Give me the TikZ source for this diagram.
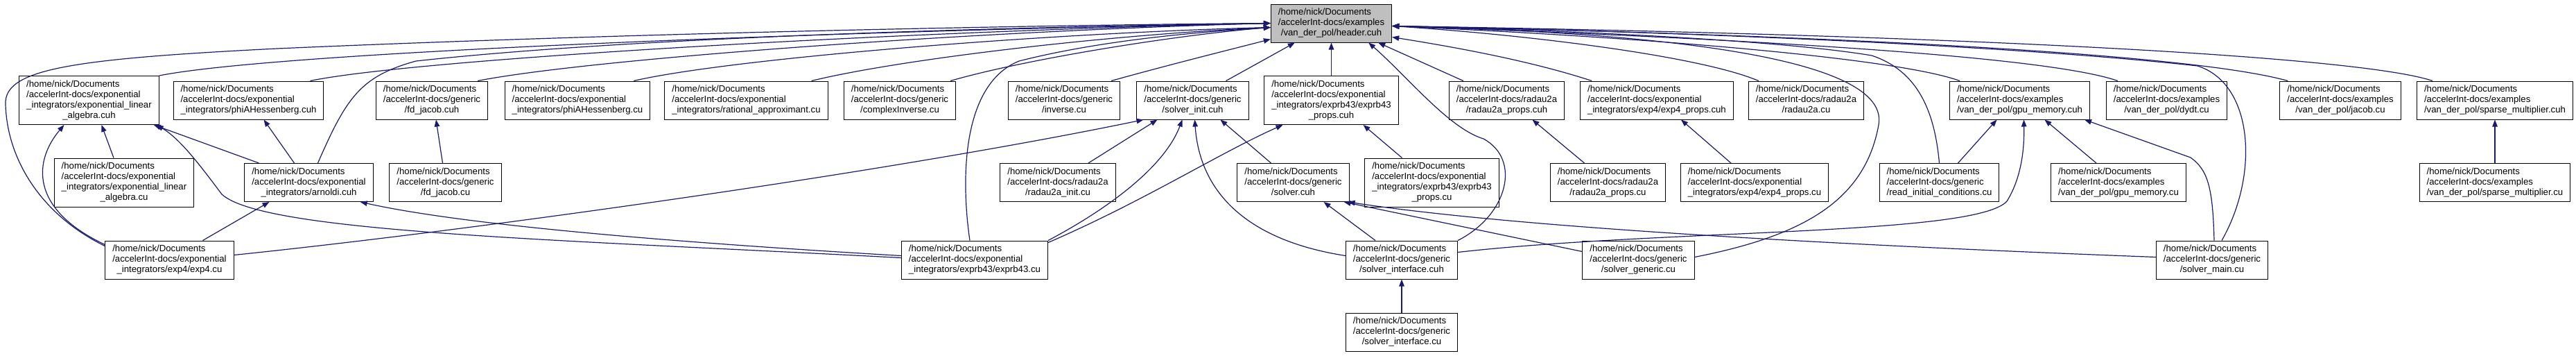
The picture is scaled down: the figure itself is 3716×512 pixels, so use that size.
\documentclass[tikz,border=0pt]{standalone}
\usepackage{fontspec}
\setmainfont{Liberation Sans}
\usetikzlibrary{arrows.meta}
\definecolor{edgeblue}{HTML}{191970}
\newcommand{\flines}[2]{\begin{tabular}{@{}l@{}}#1\\\multicolumn{1}{@{}c@{}}{#2}\end{tabular}}
\tikzset{
  file/.style={draw=black, fill=white, line width=1pt, inner xsep=10.5pt, inner ysep=5pt, font=\fontsize{13.2}{15}\selectfont},
  edge/.style={draw=edgeblue, line width=1.2pt, -{Triangle[length=10pt,width=7.5pt]}}
}
\begin{document}
\begin{tikzpicture}[x=1pt, y=-1pt]
    \useasboundingbox (0,0) rectangle (3716,512);

    % Header
    \node[file, fill=gray!50] (H) at (1920.5,33.5) {\flines{/home/nick/Documents\\/accelerInt-docs/examples}{/van\_der\_pol/header.cuh}};

    % First row
    \node[file] (elacuh) at (128.5,144.5) {\flines{/home/nick/Documents\\/accelerInt-docs/exponential\\\_integrators/exponential\_linear}{\_algebra.cuh}};
    \node[file] (phicuh) at (358.5,144.5) {\flines{/home/nick/Documents\\/accelerInt-docs/exponential}{\_integrators/phiAHessenberg.cuh}};
    \node[file] (fdcuh) at (623,144.5) {\flines{/home/nick/Documents\\/accelerInt-docs/generic}{/fd\_jacob.cuh}};
    \node[file] (phicu) at (833,144.5) {\flines{/home/nick/Documents\\/accelerInt-docs/exponential}{\_integrators/phiAHessenberg.cu}};
    \node[file] (ratcu) at (1076.5,144.5) {\flines{/home/nick/Documents\\/accelerInt-docs/exponential}{\_integrators/rational\_approximant.cu}};
    \node[file] (cinvcu) at (1298,144.5) {\flines{/home/nick/Documents\\/accelerInt-docs/generic}{/complexInverse.cu}};
    \node[file] (invcu) at (1535,144.5) {\flines{/home/nick/Documents\\/accelerInt-docs/generic}{/inverse.cu}};
    \node[file] (initcuh) at (1720.5,144.5) {\flines{/home/nick/Documents\\/accelerInt-docs/generic}{/solver\_init.cuh}};
    \node[file] (e43pcuh) at (1920.5,144.5) {\flines{/home/nick/Documents\\/accelerInt-docs/exponential\\\_integrators/exprb43/exprb43}{\_props.cuh}};
    \node[file] (r2pcuh) at (2173.5,144.5) {\flines{/home/nick/Documents\\/accelerInt-docs/radau2a}{/radau2a\_props.cuh}};
    \node[file] (e4pcuh) at (2390,144.5) {\flines{/home/nick/Documents\\/accelerInt-docs/exponential}{\_integrators/exp4/exp4\_props.cuh}};
    \node[file] (r2cu) at (2605.5,144.5) {\flines{/home/nick/Documents\\/accelerInt-docs/radau2a}{/radau2a.cu}};
    \node[file] (gpucuh) at (2913.5,144.5) {\flines{/home/nick/Documents\\/accelerInt-docs/examples}{/van\_der\_pol/gpu\_memory.cuh}};
    \node[file] (dydtcu) at (3125.5,144.5) {\flines{/home/nick/Documents\\/accelerInt-docs/examples}{/van\_der\_pol/dydt.cu}};
    \node[file] (jaccu) at (3376,144.5) {\flines{/home/nick/Documents\\/accelerInt-docs/examples}{/van\_der\_pol/jacob.cu}};
    \node[file] (spcuh) at (3599,144.5) {\flines{/home/nick/Documents\\/accelerInt-docs/examples}{/van\_der\_pol/sparse\_multiplier.cuh}};

    % Second row
    \node[file] (elacu) at (179,263) {\flines{/home/nick/Documents\\/accelerInt-docs/exponential\\\_integrators/exponential\_linear}{\_algebra.cu}};
    \node[file] (arncuh) at (445.5,263) {\flines{/home/nick/Documents\\/accelerInt-docs/exponential}{\_integrators/arnoldi.cuh}};
    \node[file] (fdcu) at (642.5,263) {\flines{/home/nick/Documents\\/accelerInt-docs/generic}{/fd\_jacob.cu}};
    \node[file] (r2icu) at (1526,263) {\flines{/home/nick/Documents\\/accelerInt-docs/radau2a}{/radau2a\_init.cu}};
    \node[file] (solcuh) at (1865.5,263) {\flines{/home/nick/Documents\\/accelerInt-docs/generic}{/solver.cuh}};
    \node[file] (e43pcu) at (2065.5,263) {\flines{/home/nick/Documents\\/accelerInt-docs/exponential\\\_integrators/exprb43/exprb43}{\_props.cu}};
    \node[file] (r2pcu) at (2319.5,263) {\flines{/home/nick/Documents\\/accelerInt-docs/radau2a}{/radau2a\_props.cu}};
    \node[file] (e4pcu) at (2531,263) {\flines{/home/nick/Documents\\/accelerInt-docs/exponential}{\_integrators/exp4/exp4\_props.cu}};
    \node[file] (ricu) at (2797.5,263) {\flines{/home/nick/Documents\\/accelerInt-docs/generic}{/read\_initial\_conditions.cu}};
    \node[file] (gpucu) at (3056,263) {\flines{/home/nick/Documents\\/accelerInt-docs/examples}{/van\_der\_pol/gpu\_memory.cu}};
    \node[file] (spcu) at (3599,263) {\flines{/home/nick/Documents\\/accelerInt-docs/examples}{/van\_der\_pol/sparse\_multiplier.cu}};

    % Third and fourth row
    \node[file] (e4cu) at (244.5,374.5) {\flines{/home/nick/Documents\\/accelerInt-docs/exponential}{\_integrators/exp4/exp4.cu}};
    \node[file] (e43cu) at (1406,374.5) {\flines{/home/nick/Documents\\/accelerInt-docs/exponential}{\_integrators/exprb43/exprb43.cu}};
    \node[file] (sifcuh) at (2022,374.5) {\flines{/home/nick/Documents\\/accelerInt-docs/generic}{/solver\_interface.cuh}};
    \node[file] (gencu) at (2363.5,374.5) {\flines{/home/nick/Documents\\/accelerInt-docs/generic}{/solver\_generic.cu}};
    \node[file] (maincu) at (3191,374.5) {\flines{/home/nick/Documents\\/accelerInt-docs/generic}{/solver\_main.cu}};
    \node[file] (sifcu) at (2022,478.5) {\flines{/home/nick/Documents\\/accelerInt-docs/generic}{/solver\_interface.cu}};

    % Edges into header, left side
    \draw[edge] ([yshift=-8pt]e4cu.north west) .. controls (60,310) and (10,230) .. (8,150) .. controls (6,100) and (100,85) .. (400,70) .. controls (900,48) and (1500,36) .. (H.west);
    \draw[edge] (elacuh.north east) .. controls (400,75) and (1200,45) .. (H.west);
    \draw[edge] ([xshift=-20pt]phicuh.north east) .. controls (600,85) and (1300,45) .. (H.west);
    \draw[edge] ([xshift=-15pt]fdcuh.north east) .. controls (850,85) and (1400,45) .. (H.west);
    \draw[edge] ([xshift=13pt]arncuh.north) .. controls (500,140) and (520,110) .. (600,88) .. controls (900,55) and (1400,40) .. (H.west);
    \draw[edge] ([xshift=-24pt]phicu.north east) .. controls (1050,85) and (1500,48) .. ([yshift=-6pt]H.west);
    \draw[edge] ([xshift=-24pt]ratcu.north east) .. controls (1300,85) and (1600,50) .. ([yshift=-6pt]H.west);
    \draw[edge] ([xshift=-8pt]cinvcu.north east) .. controls (1480,85) and (1700,50) .. ([yshift=-6pt]H.west);
    \draw[edge] ([xshift=-7pt]e43cu.north) .. controls (1385,250) and (1390,120) .. (1470,88) .. controls (1600,55) and (1750,45) .. ([yshift=-6pt]H.west);
    \draw[edge] ([xshift=-13pt]invcu.north east) .. controls (1680,95) and (1780,70) .. ([yshift=-23pt]H.west);
    \draw[edge] ([xshift=48pt]initcuh.north) -- ([xshift=35pt]H.south west);
    \draw[edge] (e43pcuh.north) -- (H.south);

    % Edges into header, right side
    \draw[edge] ([xshift=21pt]r2pcuh.north west) -- ([xshift=-20pt]H.south east);
    \draw[edge] (sifcuh.north east) .. controls (2175,310) and (2195,230) .. (2140,200) .. controls (2090,185) and (2030,110) .. ([xshift=-34pt]H.south east);
    \draw[edge] ([xshift=17pt]e4pcuh.north west) .. controls (2200,85) and (2080,65) .. ([yshift=-20pt]H.east);
    \draw[edge] ([xshift=15pt]r2cu.north west) .. controls (2450,80) and (2200,50) .. ([yshift=-4pt]H.east);
    \draw[edge] ([yshift=4pt]gencu.east) .. controls (2600,340) and (2690,290) .. (2710,180) .. controls (2730,70) and (2300,45) .. ([yshift=-4pt]H.east);
    \draw[edge] (ricu.north) .. controls (2790,150) and (2760,100) .. (2700,80) .. controls (2550,55) and (2200,42) .. ([yshift=-4pt]H.east);
    \draw[edge] ([xshift=15pt]gpucuh.north west) .. controls (2740,85) and (2400,55) .. ([yshift=-4pt]H.east);
    \draw[edge] ([xshift=17pt]dydtcu.north west) .. controls (2950,80) and (2500,55) .. ([yshift=-4pt]H.east);
    \draw[edge] ([xshift=14pt]maincu.north) .. controls (3260,250) and (3250,120) .. (3170,95) .. controls (2900,65) and (2400,45) .. ([yshift=-4pt]H.east);
    \draw[edge] ([xshift=12pt]jaccu.north west) .. controls (3150,75) and (2600,50) .. ([yshift=-4pt]H.east);
    \draw[edge] ([xshift=23pt]spcuh.north west) .. controls (3400,80) and (2800,50) .. ([yshift=-4pt]H.east);

    % Exponential integrators
    \draw[edge] ([xshift=-15pt]elacu.north) -- ([xshift=18pt]elacuh.south);
    \draw[edge] ([yshift=-6pt]e4cu.north west) .. controls (40,300) and (50,230) .. ([xshift=-36pt]elacuh.south);
    \draw[edge] ([xshift=-72pt]arncuh.north) -- ([xshift=-8pt]elacuh.south east);
    \draw[edge] ([yshift=3pt]e43cu.west) .. controls (800,345) and (380,335) .. (320,280) .. controls (290,240) and (260,200) .. ([xshift=-4pt]elacuh.south east);
    \draw[edge] ([xshift=-21pt]arncuh.north) -- ([xshift=22pt]phicuh.south);
    \draw[edge] ([xshift=-4pt]fdcu.north) -- ([xshift=6pt]fdcuh.south);
    \draw[edge] ([xshift=48pt]e4cu.north) -- ([xshift=-57pt]arncuh.south);
    \draw[edge] ([yshift=6pt]e43cu.west) .. controls (900,345) and (650,320) .. ([xshift=-19pt]arncuh.south east);

    % Solver init
    \draw[edge] ([yshift=7pt]e4cu.east) .. controls (700,330) and (1300,245) .. ([xshift=-71pt]initcuh.south);
    \draw[edge] ([xshift=44pt]r2icu.north) -- ([xshift=-51pt]initcuh.south);
    \draw[edge] (e43cu.north east) .. controls (1600,300) and (1680,240) .. ([xshift=-15pt]initcuh.south);
    \draw[edge] ([yshift=6pt]sifcuh.west) .. controls (1790,345) and (1730,270) .. ([xshift=3pt]initcuh.south);
    \draw[edge] ([xshift=-32pt]solcuh.north) -- ([xshift=40pt]initcuh.south);

    % Props
    \draw[edge] ([yshift=-3pt]e43cu.north east) .. controls (1650,290) and (1760,220) .. ([xshift=-70pt]e43pcuh.south);
    \draw[edge] ([xshift=-43pt]e43pcu.north) -- ([xshift=46pt]e43pcuh.south);
    \draw[edge] ([xshift=-34pt]r2pcu.north) -- ([xshift=37pt]r2pcuh.south);
    \draw[edge] ([xshift=-34pt]e4pcu.north) -- ([xshift=35pt]e4pcuh.south);

    % Solver
    \draw[edge] ([xshift=-38pt]sifcuh.north) -- ([xshift=44pt]solcuh.south);
    \draw[edge] ([yshift=12pt]gencu.west) -- ([xshift=-8pt]solcuh.south east);
    \draw[edge] ([yshift=4pt]maincu.west) .. controls (2700,355) and (2200,330) .. ([xshift=-2pt]solcuh.south east);
    \draw[edge] (sifcu.north) -- (sifcuh.south);

    % GPU memory
    \draw[edge] ([yshift=11pt]sifcuh.east) .. controls (2400,330) and (2850,340) .. (2895,290) .. controls (2920,250) and (2920,200) .. ([xshift=6pt]gpucuh.south);
    \draw[edge] ([xshift=27pt]ricu.north) -- ([xshift=-33pt]gpucuh.south);
    \draw[edge] ([xshift=-32pt]gpucu.north) -- ([xshift=36pt]gpucuh.south);
    \draw[edge] ([xshift=3pt]maincu.north) .. controls (3192,270) and (3185,245) .. (3160,227) -- ([xshift=-8pt]gpucuh.south east);
    \draw[edge] (spcu.north) -- (spcuh.south);
\end{tikzpicture}
\end{document}
